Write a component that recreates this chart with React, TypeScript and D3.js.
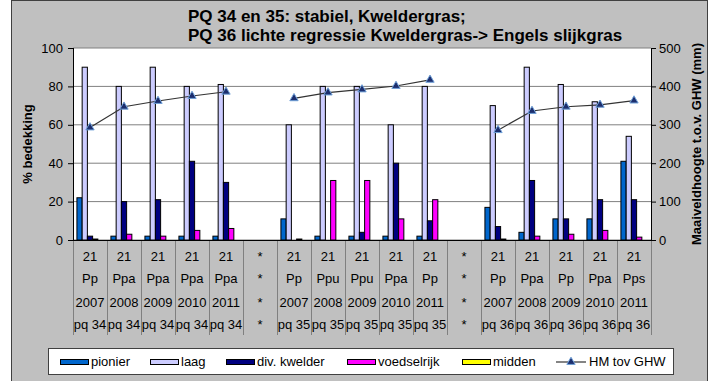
import React from "react";
import * as d3 from "d3";

const row1 = ["21","21","21","21","21","*","21","21","21","21","21","*","21","21","21","21","21"];
const row2 = ["Pp","Ppa","Ppa","Ppa","Ppa","*","Pp","Ppu","Ppu","Ppa","Pp","*","Pp","Ppa","Pp","Ppa","Pps"];
const row3 = ["2007","2008","2009","2010","2011","*","2007","2008","2009","2010","2011","*","2007","2008","2009","2010","2011"];
const row4 = ["pq 34","pq 34","pq 34","pq 34","pq 34","*","pq 35","pq 35","pq 35","pq 35","pq 35","*","pq 36","pq 36","pq 36","pq 36","pq 36"];

const pionier = [22,2,2,2,2,null,11,2,2,2,2,null,17,4,11,11,41];
const laag = [90,80,90,80,81,null,60,80,80,60,80,null,70,90,81,72,54];
const divKwelder = [2,20,21,41,30,null,0,0,4,40,10,null,7,31,11,21,21];
const voedselrijk = [0.5,3,2,5,6,null,0.5,31,31,11,21,null,0.5,2,3,5,1.5];
const midden = [0,0,0,0,0,null,0,0,0,0,0,null,0,0,0,0,0];
const hmTovGhw = [293,347,362,375,386,null,369,384,392,401,417,null,286,336,347,352,363];

const seriesNames = ["pionier","laag","div. kwelder","voedselrijk","midden"];
const seriesValues = [pionier, laag, divKwelder, voedselrijk, midden];
const seriesColors = ["#0066cc","#ccccff","#000080","#ff00ff","#ffff00"];

const leftTicks = [0,20,40,60,80,100];
const rightTicks = [0,100,200,300,400,500];

const FONT = "'Liberation Sans', Arial, sans-serif";

export default function App() {
  const W = 716, H = 381;
  const plotL = 73, plotR = 651, plotT = 48, plotB = 240;
  const idx = row1.map((_, i) => i);
  const x0 = d3.scaleBand<number>().domain(idx).range([plotL, plotR]).paddingInner(0).paddingOuter(0);
  const x1 = d3.scaleBand<number>().domain(seriesNames.map((_, i) => i)).range([0, x0.bandwidth()]).paddingInner(0).paddingOuter(0.75);
  const yL = d3.scaleLinear().domain([0, 100]).range([plotB, plotT]);
  const yR = d3.scaleLinear().domain([0, 500]).range([plotB, plotT]);
  const line = d3.line<number | null>()
    .defined(d => d != null)
    .x((_, i) => (x0(i) as number) + x0.bandwidth() / 2)
    .y(d => yR(d as number));
  const rows = [row1, row2, row3, row4];
  const rowY = [261, 283, 307, 329];
  const tri = d3.symbol().type(d3.symbolTriangle).size(30)();

  const legendItems = [
    { x: 60, text: "pionier", c: 0 },
    { x: 150, text: "laag", c: 1 },
    { x: 226, text: "div. kwelder", c: 2 },
    { x: 347, text: "voedselrijk", c: 3 },
    { x: 462, text: "midden", c: 4 },
  ];

  return (
    <svg width={W} height={H} style={{ position: "absolute", left: 0, top: 0, fontFamily: FONT }}>
      <rect x={0} y={0} width={W} height={H} fill="#ffffff" />
      <rect x={11.5} y={0.5} width={696} height={H} fill="#c0c0c0" stroke="#404040" />
      <text x={188} y={22} fontSize={17} fontWeight="bold" fill="#000">PQ 34 en 35: stabiel, Kweldergras;</text>
      <text x={188} y={41} fontSize={17} fontWeight="bold" fill="#000">PQ 36 lichte regressie Kweldergras-&gt; Engels slijkgras</text>

      <rect x={plotL} y={plotT} width={plotR - plotL} height={plotB - plotT} fill="#ffffff" />
      {leftTicks.map(t => (
        <line key={"g" + t} x1={plotL} x2={plotR} y1={yL(t)} y2={yL(t)} stroke="#808080" strokeWidth={1} />
      ))}
      {/* category dividers */}
      {d3.range(row1.length + 1).map(i => {
        const xx = Math.round(plotL + i * x0.step()) + 0.5;
        return <line key={"cd" + i} x1={xx} x2={xx} y1={plotB} y2={335} stroke="#808080" />;
      })}
      {/* bars */}
      {seriesValues.map((vals, s) => (
        <g key={"s" + s}>
          {vals.map((v, i) => v == null || v <= 0 ? null : (
            <rect key={i}
              x={(x0(i) as number) + (x1(s) as number)}
              y={yL(v)}
              width={x1.bandwidth()}
              height={Math.max(0.5, yL(0) - yL(v))}
              fill={seriesColors[s]} stroke="#000" strokeWidth={1} />
          ))}
        </g>
      ))}
      {/* line */}
      <path d={line(hmTovGhw) || ""} fill="none" stroke="#333333" strokeWidth={1.2} />
      {hmTovGhw.map((v, i) => v == null ? null : (
        <path key={"m" + i} d={tri || ""}
          transform={`translate(${(x0(i) as number) + x0.bandwidth() / 2},${yR(v)})`}
          fill="#1c2e6e" stroke="#6fa0d8" strokeWidth={1} />
      ))}
      {/* axes */}
      <line x1={plotL + 0.5} x2={plotL + 0.5} y1={plotT} y2={plotB} stroke="#000" />
      <line x1={plotR + 0.5} x2={plotR + 0.5} y1={plotT} y2={plotB} stroke="#000" />
      <line x1={plotL} x2={plotR} y1={plotB + 0.5} y2={plotB + 0.5} stroke="#000" />
      {leftTicks.map(t => (
        <g key={"lt" + t}>
          <line x1={plotL - 5} x2={plotL} y1={yL(t) + 0.5} y2={yL(t) + 0.5} stroke="#000" />
          <text x={63} y={yL(t) + 4.5} fontSize={13} textAnchor="end" fill="#000">{t}</text>
        </g>
      ))}
      {rightTicks.map(t => (
        <g key={"rt" + t}>
          <line x1={plotR} x2={plotR + 5} y1={yR(t) + 0.5} y2={yR(t) + 0.5} stroke="#000" />
          <text x={659} y={yR(t) + 4.5} fontSize={13} textAnchor="start" fill="#000">{t}</text>
        </g>
      ))}
      <text transform={`translate(32,${(plotT + plotB) / 2}) rotate(-90)`} fontSize={13} fontWeight="bold" textAnchor="middle" fill="#000">% bedekking</text>
      <text transform={`translate(701,${(plotT + plotB) / 2}) rotate(-90)`} fontSize={13} fontWeight="bold" textAnchor="middle" fill="#000">Maaiveldhoogte t.o.v. GHW (mm)</text>
      {/* category labels */}
      {rows.map((r, ri) => r.map((lab, i) => (
        <text key={`c${ri}-${i}`} x={(x0(i) as number) + x0.bandwidth() / 2} y={rowY[ri]}
          fontSize={13} textAnchor="middle" fill="#000">{lab}</text>
      )))}
      {/* legend */}
      <rect x={48.5} y={348.5} width={625} height={26} fill="#ffffff" stroke="#404040" />
      {legendItems.map(it => (
        <g key={it.text}>
          <rect x={it.x + 0.5} y={359.5} width={28} height={5} fill={seriesColors[it.c]} stroke="#000" />
          <text x={it.x + 31} y={366} fontSize={13} fill="#000">{it.text}</text>
        </g>
      ))}
      <line x1={556} x2={586} y1={362} y2={362} stroke="#333" strokeWidth={1.2} />
      <path d={tri || ""} transform="translate(571,362)" fill="#1c2e6e" stroke="#6fa0d8" />
      <text x={589} y={366} fontSize={13} fill="#000">HM tov GHW</text>
    </svg>
  );
}
